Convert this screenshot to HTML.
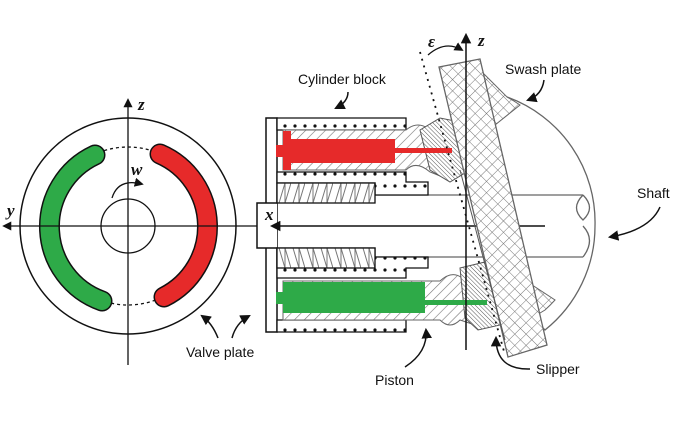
<!DOCTYPE html>
<html><head><meta charset="utf-8"><style>
html,body{margin:0;padding:0;background:#fff;}
svg{display:block;}
text{font-family:"Liberation Sans",sans-serif;font-size:14px;fill:#111;}
.it{font-family:"Liberation Serif",serif;font-style:italic;font-weight:bold;font-size:17px;}
</style></head><body>
<svg width="700" height="426" viewBox="0 0 700 426" xmlns="http://www.w3.org/2000/svg">
<defs>
<pattern id="h" width="7" height="7" patternUnits="userSpaceOnUse" patternTransform="rotate(45)">
<rect width="7" height="7" fill="#fff"/><line x1="0" y1="0" x2="0" y2="7" stroke="#777" stroke-width="1.2"/></pattern>
<pattern id="hd" width="3" height="3" patternUnits="userSpaceOnUse" patternTransform="rotate(-45)">
<rect width="3" height="3" fill="#fff"/><line x1="0" y1="0" x2="0" y2="3" stroke="#555" stroke-width="1"/></pattern>
<pattern id="x" width="8" height="8" patternUnits="userSpaceOnUse" patternTransform="rotate(45)">
<rect width="8" height="8" fill="#fff"/><line x1="0" y1="0" x2="0" y2="8" stroke="#777"/><line x1="0" y1="0" x2="8" y2="0" stroke="#777"/></pattern>
<pattern id="d" width="10" height="12" patternUnits="userSpaceOnUse">
<rect width="10" height="12" fill="#fff"/><circle cx="5" cy="6" r="1.6" fill="#111"/></pattern>
<pattern id="s" x="277" y="183" width="14" height="20" patternUnits="userSpaceOnUse">
<rect width="14" height="20" fill="#fff"/><polyline points="2,20 8,0 8,20 14,0" fill="none" stroke="#777"/></pattern>
<pattern id="s2" x="277" y="248" width="14" height="20" patternUnits="userSpaceOnUse">
<rect width="14" height="20" fill="#fff"/><polyline points="2,0 8,20 8,0 14,20" fill="none" stroke="#777"/></pattern>
<marker id="a" viewBox="0 0 10 10" refX="8" refY="5" markerWidth="7" markerHeight="7" orient="auto"><path d="M0,0 L10,5 L0,10 z" fill="#111"/></marker>
</defs>

<!-- Valve plate -->
<circle cx="128" cy="226" r="108" fill="none" stroke="#111" stroke-width="1.5"/>
<circle cx="128" cy="226" r="27" fill="none" stroke="#111" stroke-width="1.3"/>
<circle cx="128" cy="226" r="79" fill="none" stroke="#111" stroke-width="1.3" stroke-dasharray="3,3"/>
<path d="M95,155 A79,79 0 0 0 102,301" fill="none" stroke="#111" stroke-width="21" stroke-linecap="round"/>
<path d="M95,155 A79,79 0 0 0 102,301" fill="none" stroke="#2eaa48" stroke-width="18" stroke-linecap="round"/>
<path d="M160,154 A79,79 0 0 1 164,297" fill="none" stroke="#111" stroke-width="21" stroke-linecap="round"/>
<path d="M160,154 A79,79 0 0 1 164,297" fill="none" stroke="#e62a2a" stroke-width="18" stroke-linecap="round"/>
<line x1="128" y1="365" x2="128" y2="100" stroke="#111" stroke-width="1.3" marker-end="url(#a)"/>
<line x1="262" y1="226" x2="4" y2="226" stroke="#111" stroke-width="1.3" marker-end="url(#a)"/>
<text x="138" y="110" class="it">z</text>
<text x="7" y="216" class="it">y</text>
<text x="131" y="175" class="it">w</text>
<path d="M112,198 Q118,178 142,184" fill="none" stroke="#111" stroke-width="1.3" marker-end="url(#a)"/>

<!-- swash plate body (behind) -->
<path d="M480,93 L507,97 A133,133 0 0 1 595,226 A133,133 0 0 1 545,330 L505,290 Z" fill="#fff" stroke="#666" stroke-width="1.3"/>
<path d="M480,70 L507,97 A133,133 0 0 1 520,105 L470,145 Z" fill="url(#x)" stroke="#666"/>
<path d="M497,262 L555,300 A133,133 0 0 1 545,310 L520,325 Z" fill="url(#x)" stroke="#666"/>
<!-- shaft -->
<path d="M375,195 H583 M375,257 H583" stroke="#666" stroke-width="1.3"/>
<path d="M583,195 Q570,208 583,220 Q596,208 583,195 M583,226 Q596,240 583,257" fill="none" stroke="#666" stroke-width="1.3"/>

<!-- cylinder block -->
<rect x="266" y="118" width="11" height="214" fill="#fff" stroke="#111" stroke-width="1.5"/>
<rect x="257" y="203" width="20" height="45" fill="#fff" stroke="none"/>
<path d="M277,203 H257 V248 H277" fill="none" stroke="#111" stroke-width="1.5"/>
<path d="M277,118 H406 V130 H277 Z" fill="url(#d)" stroke="#111" stroke-width="1.3"/>
<path d="M277,172 H406 V182 H428 V195 H375 V183 H277 Z" fill="url(#d)" stroke="#111" stroke-width="1.3"/>
<rect x="277" y="183" width="98" height="20" fill="url(#s)" stroke="#111" stroke-width="1.3"/>
<path d="M283,130 H406 Q418,120 430,130 L445,128 L470,168 L445,178 L430,172 Q416,160 406,170 H283 Z" fill="url(#h)" stroke="#666"/>
<path d="M420,130 L440,118 L460,122 L470,170 L450,182 L430,170 Z" fill="url(#hd)" stroke="#555"/>
<rect x="283" y="139" width="112" height="24" fill="#e62a2a"/>
<rect x="283" y="131" width="8" height="39" fill="#e62a2a"/>
<rect x="276" y="145" width="10" height="12" fill="#e62a2a"/>
<rect x="395" y="148" width="57" height="5" fill="#e62a2a"/>
<path d="M277,248 H375 V257 H428 V268 H406 V278 H277 Z" fill="url(#d)" stroke="#111" stroke-width="1.3"/>
<rect x="277" y="248" width="98" height="20" fill="url(#s2)" stroke="#111" stroke-width="1.3"/>
<path d="M277,320 H406 V332 H277 Z" fill="url(#d)" stroke="#111" stroke-width="1.3"/>
<path d="M283,281 H440 Q452,270 462,278 L485,272 L500,318 L475,325 L460,320 Q450,330 440,320 H283 Z" fill="url(#h)" stroke="#666"/>
<path d="M460,268 L485,262 L505,300 L500,325 L478,330 L465,318 Z" fill="url(#hd)" stroke="#555"/>
<rect x="283" y="282" width="142" height="31" fill="#2eaa48"/>
<rect x="276" y="292" width="10" height="12" fill="#2eaa48"/>
<rect x="425" y="300" width="62" height="5" fill="#2eaa48"/>
<line x1="545" y1="226" x2="272" y2="226" stroke="#111" stroke-width="1.5" marker-end="url(#a)"/>
<text x="265" y="220" class="it">x</text>

<!-- swash plate bar -->
<path d="M439,67 L480,59 L547,345 L508,357 Z" fill="url(#x)" stroke="#666" stroke-width="1.3"/>
<line x1="460" y1="170" x2="505" y2="340" stroke="#555" stroke-width="1"/>
<line x1="466" y1="350" x2="466" y2="35" stroke="#111" stroke-width="1.5" marker-end="url(#a)"/>
<line x1="420" y1="52" x2="505" y2="355" stroke="#111" stroke-width="1.8" stroke-dasharray="2,5"/>
<text x="478" y="46" class="it">z</text>
<text x="428" y="47" class="it">ε</text>
<path d="M428,55 Q445,40 462,50" fill="none" stroke="#111" stroke-width="1.3" marker-end="url(#a)"/>

<!-- labels -->
<text x="298" y="84">Cylinder block</text>
<path d="M348,92 Q348,102 336,108" fill="none" stroke="#111" stroke-width="1.5" marker-end="url(#a)"/>
<text x="505" y="74">Swash plate</text>
<path d="M544,80 Q542,95 528,100" fill="none" stroke="#111" stroke-width="1.5" marker-end="url(#a)"/>
<text x="637" y="198">Shaft</text>
<path d="M660,207 Q650,230 610,237" fill="none" stroke="#111" stroke-width="1.5" marker-end="url(#a)"/>
<text x="186" y="357">Valve plate</text>
<path d="M218,338 Q212,323 202,316" fill="none" stroke="#111" stroke-width="1.5" marker-end="url(#a)"/>
<path d="M232,338 Q236,323 249,316" fill="none" stroke="#111" stroke-width="1.5" marker-end="url(#a)"/>
<text x="375" y="385">Piston</text>
<path d="M405,367 Q428,352 426,330" fill="none" stroke="#111" stroke-width="1.5" marker-end="url(#a)"/>
<text x="536" y="374">Slipper</text>
<path d="M530,369 Q496,370 496,338" fill="none" stroke="#111" stroke-width="1.5" marker-end="url(#a)"/>
</svg>
</body></html>
